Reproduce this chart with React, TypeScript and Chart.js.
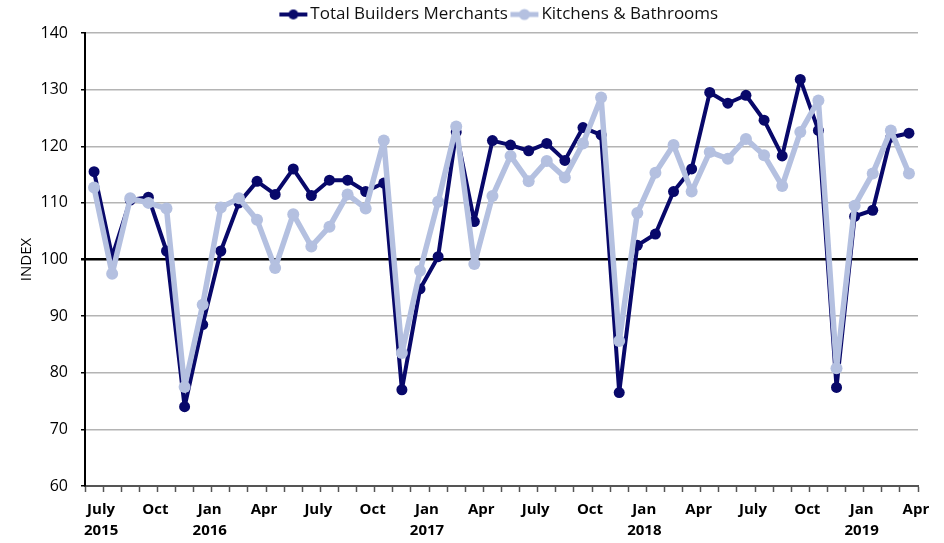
import React, { useEffect, useRef } from "react";
import { Chart, registerables } from "chart.js";
Chart.register(...registerables);

const months = [
  "Jul 2015", "Aug 2015", "Sep 2015", "Oct 2015", "Nov 2015", "Dec 2015",
  "Jan 2016", "Feb 2016", "Mar 2016", "Apr 2016", "May 2016", "Jun 2016",
  "Jul 2016", "Aug 2016", "Sep 2016", "Oct 2016", "Nov 2016", "Dec 2016",
  "Jan 2017", "Feb 2017", "Mar 2017", "Apr 2017", "May 2017", "Jun 2017",
  "Jul 2017", "Aug 2017", "Sep 2017", "Oct 2017", "Nov 2017", "Dec 2017",
  "Jan 2018", "Feb 2018", "Mar 2018", "Apr 2018", "May 2018", "Jun 2018",
  "Jul 2018", "Aug 2018", "Sep 2018", "Oct 2018", "Nov 2018", "Dec 2018",
  "Jan 2019", "Feb 2019", "Mar 2019", "Apr 2019",
];

const totalBuildersMerchants = [
  115.5, 100.5, 110.5, 111.0, 101.5, 74.0,
  88.5, 101.5, 110.0, 113.8, 111.5, 116.0,
  111.3, 114.0, 114.0, 112.0, 113.5, 77.0,
  94.8, 100.5, 122.5, 106.7, 121.0, 120.2,
  119.2, 120.5, 117.5, 123.3, 122.0, 76.5,
  102.5, 104.5, 112.0, 116.0, 129.5, 127.6,
  129.0, 124.6, 118.3, 131.8, 122.8, 77.4,
  107.6, 108.7, 121.6, 122.3,
];

const kitchensBathrooms = [
  112.7, 97.5, 110.8, 110.0, 109.0, 77.5,
  92.0, 109.2, 110.8, 107.0, 98.5, 108.0,
  102.3, 105.8, 111.5, 109.0, 121.0, 83.5,
  98.0, 110.2, 123.5, 99.2, 111.2, 118.3,
  113.8, 117.4, 114.5, 120.5, 128.6, 85.6,
  108.2, 115.3, 120.2, 112.0, 119.0, 117.8,
  121.3, 118.4, 113.0, 122.5, 128.1, 80.8,
  109.5, 115.2, 122.8, 115.2,
];

const xTickLabels: string[][] = [
  ["July", "2015"], ["Oct"], ["Jan", "2016"], ["Apr"],
  ["July"], ["Oct"], ["Jan", "2017"], ["Apr"],
  ["July"], ["Oct"], ["Jan", "2018"], ["Apr"],
  ["July"], ["Oct"], ["Jan", "2019"], ["Apr"],
];

const seriesNames = ["Total Builders Merchants", "Kitchens & Bathrooms"];
const NAVY = "#08086a";
const LIGHT = "#b4c0e0";
const Y_MIN = 60;
const Y_MAX = 140;
const Y_STEP = 10;
const BASELINE = 100;
const FONT = "'Open Sans', Lato, sans-serif";

function legendMarker(color: string, lw: number, r: number) {
  const c = document.createElement("canvas");
  c.width = 30;
  c.height = 14;
  const g = c.getContext("2d")!;
  g.strokeStyle = color;
  g.lineWidth = lw;
  g.beginPath();
  g.moveTo(1, 7);
  g.lineTo(29, 7);
  g.stroke();
  g.fillStyle = color;
  g.beginPath();
  g.arc(15, 7, r, 0, Math.PI * 2);
  g.fill();
  return c;
}

export default function App() {
  const ref = useRef<HTMLCanvasElement | null>(null);
  useEffect(() => {
    document.body.style.margin = "0";
    const canvas = ref.current!;
    const chart = new Chart(canvas, {
      type: "line",
      data: {
        labels: months,
        datasets: [
          {
            label: seriesNames[0],
            data: totalBuildersMerchants,
            borderColor: NAVY,
            backgroundColor: NAVY,
            borderWidth: 4,
            borderJoinStyle: "round",
            pointRadius: 5.5,
            pointBackgroundColor: NAVY,
            pointBorderWidth: 0,
            tension: 0,
            order: 1,
            pointStyle: "circle",
          },
          {
            label: seriesNames[1],
            data: kitchensBathrooms,
            borderColor: LIGHT,
            backgroundColor: LIGHT,
            borderWidth: 5.5,
            borderJoinStyle: "round",
            pointRadius: 6,
            pointBackgroundColor: LIGHT,
            pointBorderWidth: 0,
            tension: 0,
            order: 0,
            pointStyle: "circle",
          },
        ],
      },
      options: {
        animation: false,
        responsive: false,
        devicePixelRatio: 1,
        layout: { padding: { left: 0, right: 26, top: -2, bottom: 0 } },
        plugins: {
          tooltip: { enabled: false },
          legend: {
            position: "top",
            fullSize: false,
            labels: {
              usePointStyle: true,
              color: "#111",
              font: { family: FONT, size: 17 },
              padding: 8,
              boxWidth: 30,
              boxHeight: 14,
              sort: (a: any, b: any) => a.datasetIndex - b.datasetIndex,
              generateLabels: (ch: any) =>
                ch.data.datasets.map((d: any, i: number) => ({
                  text: d.label,
                  datasetIndex: i,
                  fillStyle: d.borderColor,
                  strokeStyle: d.borderColor,
                  lineWidth: 0,
                  fontColor: "#111",
                  pointStyle: legendMarker(d.borderColor, i === 0 ? 4 : 5, i === 0 ? 5 : 5.5),
                  hidden: false,
                })),
            },
          },
        },
        scales: {
          x: {
            type: "category",
            offset: true,
            afterFit: (s: any) => {
              s.height = 57;
            },
            border: { display: true, color: "#555", width: 2 },
            grid: {
              offset: true,
              drawOnChartArea: false,
              drawTicks: true,
              tickLength: 6,
              tickWidth: 1.5,
              tickColor: "#555",
            },
            ticks: {
              autoSkip: false,
              maxRotation: 0,
              minRotation: 0,
              labelOffset: 7,
              padding: 8,
              color: "#000",
              font: { family: FONT, size: 15, weight: "bold", lineHeight: 1.35 },
              callback: (_v: any, i: number) => (i % 3 === 0 ? xTickLabels[i / 3] : ""),
            },
          },
          y: {
            min: Y_MIN,
            max: Y_MAX,
            afterFit: (s: any) => {
              s.width = 85;
            },
            border: { display: true, color: "#000", width: 2 },
            grid: {
              color: (c: any) =>
                c.tick && c.tick.value === BASELINE ? "#000" : c.tick && c.tick.value === Y_MIN ? "#555" : "#b4b4b4",
              lineWidth: (c: any) => (c.tick && c.tick.value === BASELINE ? 2.5 : 1.5),
              drawTicks: true,
              tickLength: 4,
              tickColor: "#000",
            },
            ticks: {
              stepSize: Y_STEP,
              padding: 13,
              color: "#000",
              font: { family: FONT, size: 16 },
            },
            title: {
              display: true,
              text: "INDEX",
              color: "#000",
              font: { family: FONT, size: 15 },
              padding: { top: 18, bottom: 0 },
            },
          },
        },
      },
    });
    return () => chart.destroy();
  }, []);
  return <canvas ref={ref} width={944} height={543} style={{ display: "block" }} />;
}
